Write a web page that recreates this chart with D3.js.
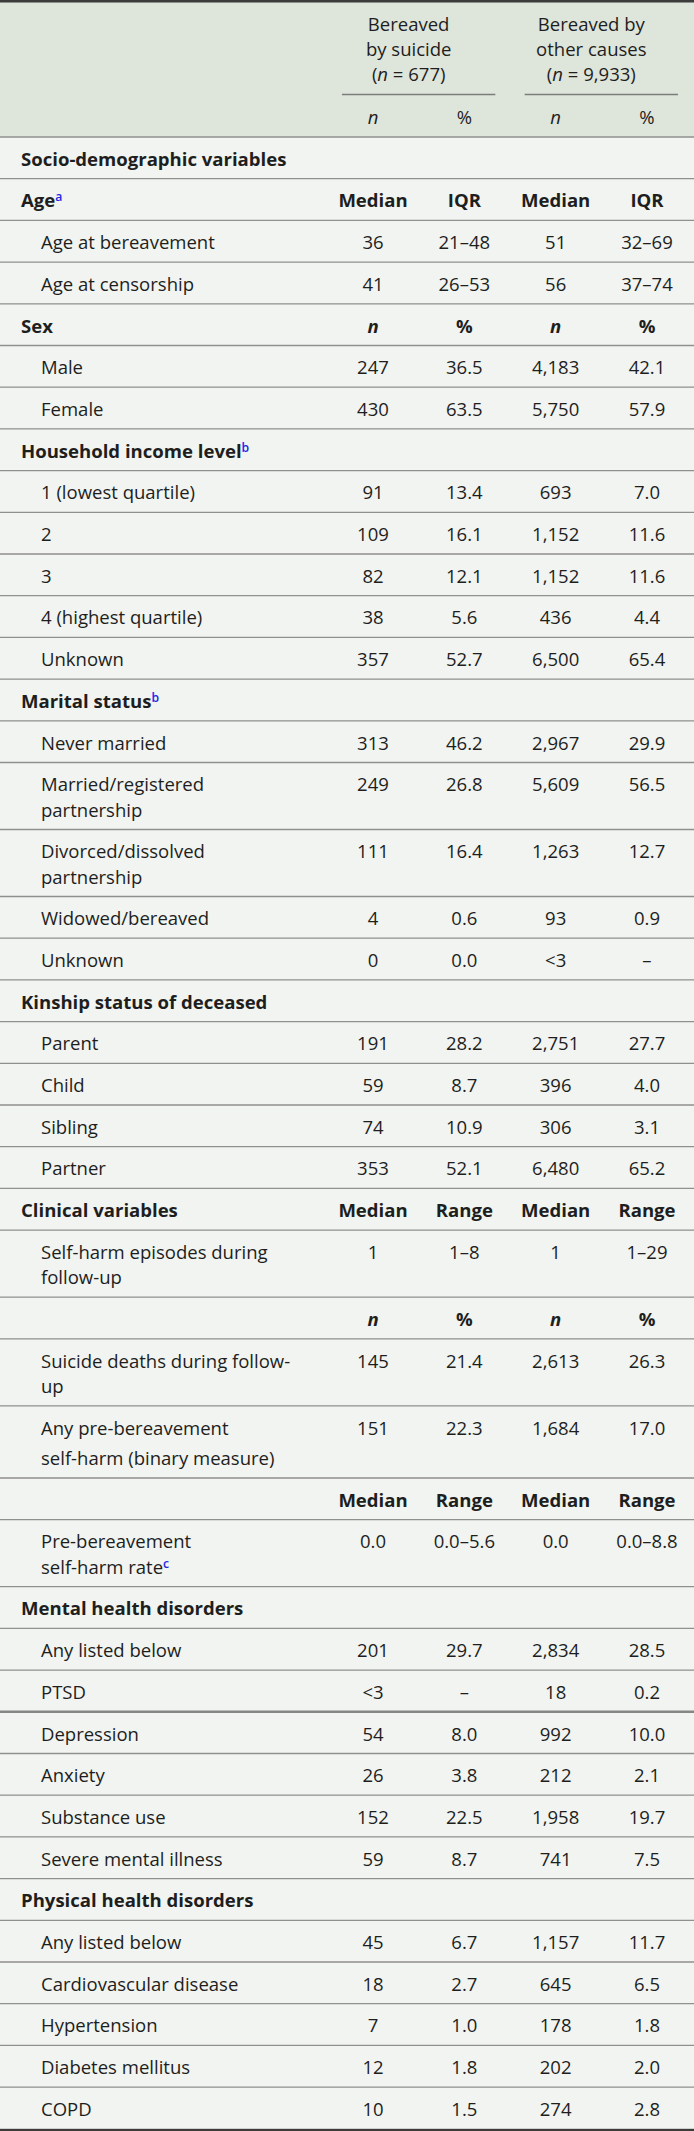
<!DOCTYPE html>
<html>
<head>
<meta charset="utf-8">
<script src="https://cdn.jsdelivr.net/npm/d3@7"></script>
<style>
  html, body { margin: 0; padding: 0; background: #ffffff; }
  svg { display: block; }
</style>
</head>
<body>
<script>
// ---------------- DATA ----------------
const columnKeys = ["sA", "sB", "oA", "oB"];
const groupTitles = [["Bereaved", "by suicide"], ["Bereaved by", "other causes"]];
const groupTotals = ["677", "9,933"];
const headerUnits = ["n", "%", "n", "%"];

const rowKinds = [
  "section", "section", "item", "item",
  "section", "item", "item",
  "section", "item", "item", "item", "item", "item",
  "section", "item", "item", "item", "item", "item",
  "section", "item", "item", "item", "item",
  "section", "item", "sub", "item", "item", "sub", "item",
  "section", "item", "item", "item", "item", "item", "item",
  "section", "item", "item", "item", "item", "item"
];

const rowLabels = [
  "Socio-demographic variables", "Age", "Age at bereavement", "Age at censorship",
  "Sex", "Male", "Female",
  "Household income level", "1 (lowest quartile)", "2", "3", "4 (highest quartile)", "Unknown",
  "Marital status", "Never married", "Married/registered\npartnership", "Divorced/dissolved\npartnership", "Widowed/bereaved", "Unknown",
  "Kinship status of deceased", "Parent", "Child", "Sibling", "Partner",
  "Clinical variables", "Self-harm episodes during\nfollow-up", "", "Suicide deaths during follow-\nup", "Any pre-bereavement\nself-harm (binary measure)", "", "Pre-bereavement\nself-harm rate",
  "Mental health disorders", "Any listed below", "PTSD", "Depression", "Anxiety", "Substance use", "Severe mental illness",
  "Physical health disorders", "Any listed below", "Cardiovascular disease", "Hypertension", "Diabetes mellitus", "COPD"
];

const rowNotes = [
  "", "a", "", "",
  "", "", "",
  "b", "", "", "", "", "",
  "b", "", "", "", "", "",
  "", "", "", "", "",
  "", "", "", "", "", "", "c",
  "", "", "", "", "", "", "",
  "", "", "", "", "", ""
];

const suicideA = [
  "", "Median", "36", "41",
  "n", "247", "430",
  "", "91", "109", "82", "38", "357",
  "", "313", "249", "111", "4", "0",
  "", "191", "59", "74", "353",
  "Median", "1", "n", "145", "151", "Median", "0.0",
  "", "201", "<3", "54", "26", "152", "59",
  "", "45", "18", "7", "12", "10"
];
const suicideB = [
  "", "IQR", "21–48", "26–53",
  "%", "36.5", "63.5",
  "", "13.4", "16.1", "12.1", "5.6", "52.7",
  "", "46.2", "26.8", "16.4", "0.6", "0.0",
  "", "28.2", "8.7", "10.9", "52.1",
  "Range", "1–8", "%", "21.4", "22.3", "Range", "0.0–5.6",
  "", "29.7", "–", "8.0", "3.8", "22.5", "8.7",
  "", "6.7", "2.7", "1.0", "1.8", "1.5"
];
const otherA = [
  "", "Median", "51", "56",
  "n", "4,183", "5,750",
  "", "693", "1,152", "1,152", "436", "6,500",
  "", "2,967", "5,609", "1,263", "93", "<3",
  "", "2,751", "396", "306", "6,480",
  "Median", "1", "n", "2,613", "1,684", "Median", "0.0",
  "", "2,834", "18", "992", "212", "1,958", "741",
  "", "1,157", "645", "178", "202", "274"
];
const otherB = [
  "", "IQR", "32–69", "37–74",
  "%", "42.1", "57.9",
  "", "7.0", "11.6", "11.6", "4.4", "65.4",
  "", "29.9", "56.5", "12.7", "0.9", "–",
  "", "27.7", "4.0", "3.1", "65.2",
  "Range", "1–29", "%", "26.3", "17.0", "Range", "0.0–8.8",
  "", "28.5", "0.2", "10.0", "2.1", "19.7", "7.5",
  "", "11.7", "6.5", "1.8", "2.0", "2.8"
];

// ---------------- LAYOUT ----------------
const W = 694, H = 2131;
const FONT = "'Open Sans', 'Noto Sans', sans-serif";
const HEADER_H = 137, ROW_H = 41.7, LINE_GAP = 25.3, LOOSE_GAP = 30.5;
const looseRows = new Set([28]);      // wrapped row with extra paragraph spacing
const heavyRuleRows = new Set([33]);  // slightly heavier rule below this row

const svg = d3.select("body").append("svg")
  .attr("width", W).attr("height", H)
  .style("font-family", FONT);

// fit font sizes to the reference text widths
function fit(str, weight, target) {
  const p = svg.append("text").attr("font-size", 100).attr("font-weight", weight).text(str);
  const s = 100 * target / p.node().getComputedTextLength();
  p.remove();
  return Math.max(14, Math.min(26, s));
}
const FS = fit("Age at bereavement", 400, 174);
const FSB = fit("Socio-demographic", 700, 176);

const x = d3.scalePoint().domain(columnKeys).range([373, 647]);

const rows = rowLabels.map((label, i) => ({
  i, label, lines: label ? label.split("\n") : [""],
  kind: rowKinds[i], note: rowNotes[i],
  vals: [suicideA[i], suicideB[i], otherA[i], otherB[i]]
}));
let acc = 0;
rows.forEach(r => {
  r.gap = looseRows.has(r.i) ? LOOSE_GAP : LINE_GAP;
  r.units = ROW_H + (r.lines.length - 1) * r.gap;
  r.start = acc; acc += r.units;
});
const y = d3.scaleLinear().domain([0, acc]).range([HEADER_H, HEADER_H + acc]);

const TEXT = "#1e1e1e", RULE = "#8f918e", NOTE = "#2525e8";

// backgrounds
svg.append("rect").attr("x", 0).attr("y", 0).attr("width", W).attr("height", HEADER_H).attr("fill", "#dee5da");
svg.append("rect").attr("x", 0).attr("y", HEADER_H).attr("width", W).attr("height", y(acc) - HEADER_H).attr("fill", "#f1f4f0");

// header
const header = svg.append("g").attr("fill", TEXT).attr("font-size", FS);
groupTitles.forEach((t, g) => {
  const x0 = x(columnKeys[g * 2]) - 31, x1 = x(columnKeys[g * 2 + 1]) + 31;
  const cx = (x0 + x1) / 2 - 10;
  t.forEach((line, k) => {
    header.append("text").attr("x", cx).attr("y", 25 + k * 25).attr("dy", "0.35em")
      .attr("text-anchor", "middle").text(line);
  });
  const tot = header.append("text").attr("x", cx).attr("y", 75).attr("dy", "0.35em").attr("text-anchor", "middle");
  tot.append("tspan").text("(");
  tot.append("tspan").attr("font-style", "italic").text("n");
  tot.append("tspan").text(" = " + groupTotals[g] + ")");
  svg.append("line").attr("x1", x0).attr("x2", x1).attr("y1", 94.5).attr("y2", 94.5)
    .attr("stroke", "#7c7e7b").attr("stroke-width", 1.3);
});
headerUnits.forEach((u, c) => {
  header.append("text").attr("x", x(columnKeys[c])).attr("y", 118).attr("dy", "0.35em")
    .attr("text-anchor", "middle").attr("font-style", u === "n" ? "italic" : "normal").text(u);
});

// rules
svg.append("line").attr("x1", 0).attr("x2", W).attr("y1", HEADER_H).attr("y2", HEADER_H)
  .attr("stroke", RULE).attr("stroke-width", 1.3);
svg.append("g").selectAll("line").data(rows.slice(0, -1)).join("line")
  .attr("x1", 0).attr("x2", W)
  .attr("y1", d => y(d.start + d.units)).attr("y2", d => y(d.start + d.units))
  .attr("stroke", d => heavyRuleRows.has(d.i) ? "#858784" : RULE)
  .attr("stroke-width", d => heavyRuleRows.has(d.i) ? 2.4 : 1.3);
svg.append("rect").attr("x", 0).attr("y", 0).attr("width", W).attr("height", 2.5).attr("fill", "#3c3c3c");
svg.append("rect").attr("x", 0).attr("y", y(acc)).attr("width", W).attr("height", H - y(acc) + 1).attr("fill", "#3c3c3c");

// body
const body = svg.append("g").attr("fill", TEXT);
const rowG = body.selectAll("g.row").data(rows).join("g").attr("class", "row");

rowG.each(function (r) {
  const g = d3.select(this);
  const cy = y(r.start) + 22.3;
  const bold = r.kind !== "item";
  const fs = bold ? FSB : FS;
  const lx = r.kind === "section" ? 21 : 41;
  r.lines.forEach((line, k) => {
    if (!line) return;
    const t = g.append("text").attr("x", lx).attr("y", cy + k * r.gap).attr("dy", "0.35em")
      .attr("font-size", fs).attr("font-weight", bold ? 700 : 400).text(line);
    if (r.note && k === r.lines.length - 1) {
      t.append("tspan").attr("dy", "-0.5em").attr("font-size", FS * 0.66)
        .attr("fill", NOTE).attr("font-weight", 600).text(r.note);
    }
  });
  r.vals.forEach((v, c) => {
    if (!v) return;
    g.append("text").attr("x", x(columnKeys[c])).attr("y", cy).attr("dy", "0.35em")
      .attr("text-anchor", "middle")
      .attr("font-size", fs)
      .attr("font-weight", bold ? 700 : 400)
      .attr("font-style", v === "n" ? "italic" : "normal")
      .text(v);
  });
});
</script>
</body>
</html>
